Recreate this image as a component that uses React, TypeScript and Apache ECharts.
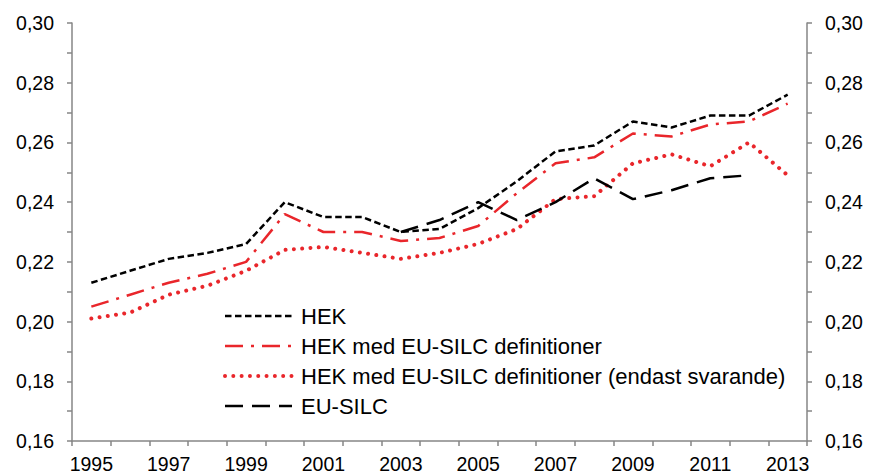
import React, { useEffect, useRef } from "react";
import * as echarts from "echarts";

const years = ["1995","1996","1997","1998","1999","2000","2001","2002","2003","2004","2005","2006","2007","2008","2009","2010","2011","2012","2013"];
const hek = [0.213, 0.217, 0.221, 0.223, 0.226, 0.240, 0.235, 0.235, 0.230, 0.231, 0.238, 0.247, 0.257, 0.259, 0.267, 0.265, 0.269, 0.269, 0.276];
const hekEu = [0.205, 0.209, 0.213, 0.216, 0.220, 0.236, 0.230, 0.230, 0.227, 0.228, 0.232, 0.243, 0.253, 0.255, 0.263, 0.262, 0.266, 0.267, 0.273];
const hekEuResp = [0.201, 0.203, 0.209, 0.212, 0.217, 0.224, 0.225, 0.223, 0.221, 0.223, 0.226, 0.231, 0.241, 0.242, 0.253, 0.256, 0.252, 0.260, 0.249];
const euSilc = [null, null, null, null, null, null, null, null, 0.230, 0.234, 0.240, 0.234, 0.240, 0.248, 0.241, 0.244, 0.248, 0.249, null];
const seriesNames = [
  "HEK",
  "HEK med EU-SILC definitioner",
  "HEK med EU-SILC definitioner (endast svarande)",
  "EU-SILC",
];
const yMin = 0.16;
const yMax = 0.30;
const yStep = 0.01;

const FONT = "'Liberation Sans', Arial, sans-serif";
const AXIS = "#868686";
const RED = "#e9262b";

export default function App() {
  const ref = useRef<HTMLDivElement>(null);
  useEffect(() => {
    document.body.style.margin = "0";
    const chart = echarts.init(ref.current!, null, { renderer: "svg" });
    const fmt = (v: number) =>
      Math.round(v * 100) % 2 === 0 ? v.toFixed(2).replace(".", ",") : "";
    const yAxisBase = {
      type: "value",
      min: yMin,
      max: yMax,
      interval: yStep,
      splitLine: { show: false },
      axisLine: { show: true, lineStyle: { color: AXIS, width: 1.5 } },
      axisTick: { show: true, inside: false, length: 5, lineStyle: { color: AXIS, width: 1.5 } },
      axisLabel: { color: "#000", fontSize: 19.5, fontFamily: FONT, margin: 18, formatter: fmt },
    };
    chart.setOption({
      animation: false,
      backgroundColor: "#fff",
      grid: { left: 72, right: 64, top: 23, bottom: 33, containLabel: false, outerBoundsMode: "none" },
      legend: {
        orient: "vertical",
        left: 223,
        top: 305,
        padding: 0,
        itemWidth: 67,
        itemHeight: 22,
        itemGap: 8,
        data: seriesNames,
        itemStyle: { opacity: 0 },
        lineStyle: { width: "inherit" },
        textStyle: { color: "#000", fontSize: 22, fontFamily: FONT, lineHeight: 22, padding: [0, 0, 0, 4] },
      },
      xAxis: {
        type: "category",
        data: years,
        boundaryGap: true,
        axisLine: { lineStyle: { color: AXIS, width: 1.5 } },
        axisTick: { show: true, interval: 0, length: 5, lineStyle: { color: AXIS, width: 1.5 } },
        axisLabel: { interval: 1, color: "#000", fontSize: 19.5, fontFamily: FONT, margin: 13 },
      },
      yAxis: [
        { ...yAxisBase, position: "left" },
        { ...yAxisBase, position: "right" },
      ],
      series: [
        {
          name: seriesNames[0], type: "line", data: hek, symbol: "none",
          lineStyle: { color: "#000", width: 2.5, type: [6.5, 3.5] }, itemStyle: { color: "#000" },
        },
        {
          name: seriesNames[1], type: "line", data: hekEu, symbol: "none",
          lineStyle: { color: RED, width: 2.5, type: [18, 8, 3, 8] }, itemStyle: { color: RED },
        },
        {
          name: seriesNames[2], type: "line", data: hekEuResp, symbol: "none",
          lineStyle: { color: RED, width: 4, type: [0.01, 8.3], cap: "round" }, itemStyle: { color: RED },
        },
        {
          name: seriesNames[3], type: "line", data: euSilc, symbol: "none", connectNulls: false,
          lineStyle: { color: "#000", width: 2.5, type: [18, 9] }, itemStyle: { color: "#000" },
        },
      ],
    });
    return () => chart.dispose();
  }, []);
  return <div ref={ref} style={{ width: 871, height: 474 }} />;
}
